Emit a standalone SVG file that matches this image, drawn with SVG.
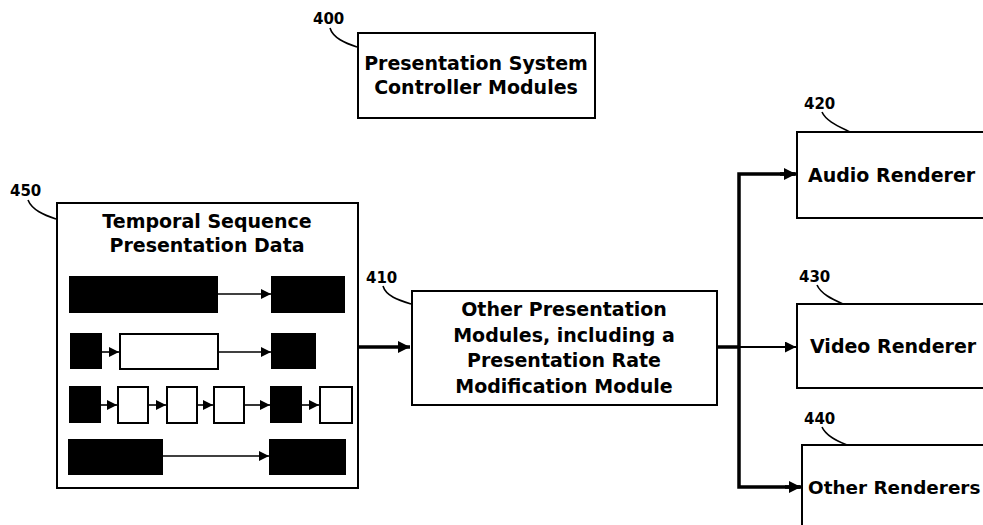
<svg xmlns="http://www.w3.org/2000/svg" width="983" height="525" viewBox="0 0 983 525">
<style>
.box{fill:#fff;stroke:#000;stroke-width:2}
.t{font-family:"DejaVu Sans",sans-serif;font-weight:bold;font-size:19px;fill:#000}
.tc{text-anchor:middle}
.lbl{font-family:"DejaVu Sans",sans-serif;font-weight:bold;font-size:15px;fill:#000}
.lead{fill:none;stroke:#000;stroke-width:1.6}
.blk{fill:#000}
.wht{fill:#fff;stroke:#000;stroke-width:2}
.thin{fill:none;stroke:#000;stroke-width:1.6}
.bus{fill:none;stroke:#000;stroke-width:3.5}
</style>
<defs>
<marker id="ah" viewBox="0 0 10 10" refX="10" refY="5" markerWidth="10" markerHeight="10" orient="auto" markerUnits="userSpaceOnUse">
<path d="M0,0 L10,5 L0,10 z" fill="#000"/>
</marker>
<marker id="ahb" viewBox="0 0 10 10" refX="10" refY="5" markerWidth="14" markerHeight="12" orient="auto" markerUnits="userSpaceOnUse">
<path d="M0,0 L10,5 L0,10 z" fill="#000"/>
</marker>
<marker id="ahs" viewBox="0 0 10 10" refX="10" refY="5" markerWidth="12" markerHeight="11" orient="auto" markerUnits="userSpaceOnUse">
<path d="M0,0 L10,5 L0,10 z" fill="#000"/>
</marker>
</defs>
<rect width="983" height="525" fill="#fff"/>

<g id="n400">
<rect class="box" x="358" y="33" width="237" height="85"/>
<text class="t tc" x="476" y="70">Presentation System</text>
<text class="t tc" x="476" y="94">Controller Modules</text>
<text class="lbl" x="313" y="24">400</text>
<path class="lead" d="M330,28 C333,38 345,43 357,47"/>
</g>

<g id="n450">
<rect class="box" x="57" y="203" width="301" height="285"/>
<text class="t tc" x="207" y="228">Temporal Sequence</text>
<text class="t tc" x="207" y="252">Presentation Data</text>
<text class="lbl" x="10" y="196">450</text>
<path class="lead" d="M28,200 C32,210 44,215 56,219"/>
<rect class="blk" x="69" y="276" width="149" height="37"/>
<rect class="blk" x="271" y="276" width="74" height="37"/>
<rect class="blk" x="70" y="333" width="32" height="36"/>
<rect class="wht" x="120" y="334" width="98" height="35"/>
<rect class="blk" x="271" y="333" width="45" height="36"/>
<rect class="blk" x="69" y="386" width="32" height="37"/>
<rect class="wht" x="118" y="387" width="30" height="36"/>
<rect class="wht" x="167" y="387" width="30" height="36"/>
<rect class="wht" x="214" y="387" width="30" height="36"/>
<rect class="blk" x="270" y="386" width="32" height="37"/>
<rect class="wht" x="320" y="387" width="32" height="36"/>
<rect class="blk" x="68" y="439" width="95" height="36"/>
<rect class="blk" x="269" y="439" width="77" height="36"/>
<g id="inner-arrows">
<line class="thin" x1="218" y1="294" x2="271" y2="294" marker-end="url(#ah)"/>
<line class="thin" x1="102" y1="352" x2="119" y2="352" marker-end="url(#ah)"/>
<line class="thin" x1="218" y1="352" x2="271" y2="352" marker-end="url(#ah)"/>
<line class="thin" x1="101" y1="405" x2="117" y2="405" marker-end="url(#ah)"/>
<line class="thin" x1="148" y1="405" x2="166" y2="405" marker-end="url(#ah)"/>
<line class="thin" x1="197" y1="405" x2="213" y2="405" marker-end="url(#ah)"/>
<line class="thin" x1="244" y1="405" x2="270" y2="405" marker-end="url(#ah)"/>
<line class="thin" x1="302" y1="405" x2="319" y2="405" marker-end="url(#ah)"/>
<line class="thin" x1="163" y1="456" x2="269" y2="456" marker-end="url(#ah)"/>
</g>
</g>

<g id="n410">
<rect class="box" x="412" y="291" width="305" height="114"/>
<text class="t tc" x="564" y="316">Other Presentation</text>
<text class="t tc" x="564" y="342">Modules, including a</text>
<text class="t tc" x="564" y="367">Presentation Rate</text>
<text class="t tc" x="564" y="393">Modification Module</text>
<text class="lbl" x="366" y="283">410</text>
<path class="lead" d="M383,286 C386,296 398,300 411,304"/>
</g>

<g id="n420">
<rect class="box" x="797" y="132" width="200" height="86"/>
<text class="t" x="808" y="182">Audio Renderer</text>
<text class="lbl" x="804" y="109">420</text>
<path class="lead" d="M822,112 C826,121 838,126 850,132"/>
</g>

<g id="n430">
<rect class="box" x="797" y="304" width="200" height="84"/>
<text class="t" x="810" y="353">Video Renderer</text>
<text class="lbl" x="799" y="282">430</text>
<path class="lead" d="M817,285 C821,294 832,299 843,304"/>
</g>

<g id="n440">
<rect class="box" x="802" y="445" width="200" height="100"/>
<text class="t" x="808" y="494" style="font-size:18.4px">Other Renderers</text>
<text class="lbl" x="804" y="424">440</text>
<path class="lead" d="M822,427 C826,436 837,441 847,445"/>
</g>

<g id="connectors">
<line class="bus" x1="358" y1="347" x2="410" y2="347" marker-end="url(#ahb)"/>
<line class="bus" x1="717" y1="347" x2="739" y2="347"/>
<line class="thin" style="stroke-width:2" x1="739" y1="347" x2="796" y2="347" marker-end="url(#ahs)"/>
<polyline class="bus" points="795,174 739,174 739,487 800,487" style="stroke-linejoin:miter"/>
<line class="bus" x1="780" y1="174" x2="796" y2="174" marker-end="url(#ahb)"/>
<line class="bus" x1="785" y1="487" x2="801" y2="487" marker-end="url(#ahb)"/>
</g>
</svg>
